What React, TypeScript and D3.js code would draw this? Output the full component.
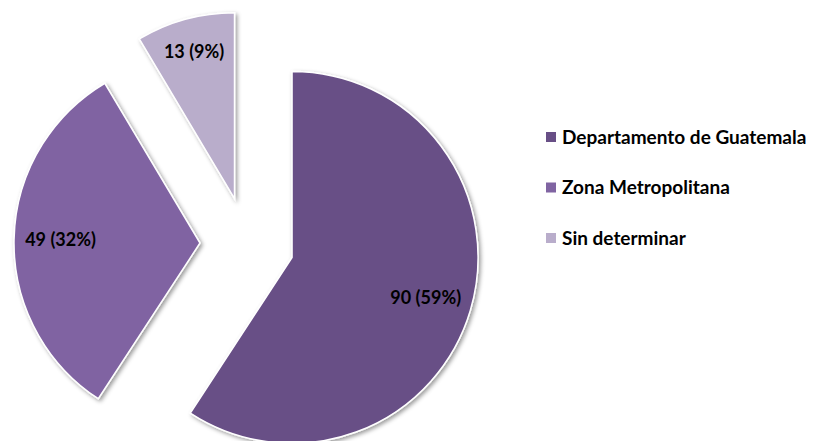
import { useEffect, useRef } from 'react'
import * as d3 from 'd3'

const categories = ['Departamento de Guatemala', 'Zona Metropolitana', 'Sin determinar']
const values = [90, 49, 13]
const colors = ['#684F86', '#8064A2', '#B9ADCB']

const App = () => {
  const svgRef = useRef<SVGSVGElement>(null)

  useEffect(() => {
    const width = 813
    const height = 441
    const cx = 247
    const cy = 244
    const radius = 186
    const explode = 47

    const svg = d3.select(svgRef.current)
    svg.selectAll('*').remove()
    svg.attr('width', width).attr('height', height)

    const defs = svg.append('defs')
    const filter = defs.append('filter')
      .attr('id', 'shadow')
      .attr('x', '-20%').attr('y', '-20%')
      .attr('width', '140%').attr('height', '140%')
    filter.append('feDropShadow')
      .attr('dx', 2).attr('dy', 2)
      .attr('stdDeviation', 2)
      .attr('flood-color', '#000')
      .attr('flood-opacity', 0.4)

    const total = d3.sum(values)
    const data = values.map((v, i) => ({ name: categories[i], value: v, color: colors[i] }))

    const pie = d3.pie<any>().sort(null).value(d => d.value)
    const arcs = pie(data)

    const arc = d3.arc<any>().innerRadius(0).outerRadius(radius)

    const slices = svg.append('g')
      .selectAll('g')
      .data(arcs)
      .enter()
      .append('g')
      .attr('transform', d => {
        const mid = (d.startAngle + d.endAngle) / 2
        return `translate(${cx + Math.sin(mid) * explode},${cy - Math.cos(mid) * explode})`
      })

    slices.append('path')
      .attr('d', arc)
      .attr('fill', d => d.data.color)
      .attr('stroke', '#fff')
      .attr('stroke-width', 1.5)
      .attr('filter', 'url(#shadow)')

    // narrow slices get their label pushed further out, like Excel's best fit
    slices.append('text')
      .attr('transform', d => {
        const mid = (d.startAngle + d.endAngle) / 2
        const r = (d.endAngle - d.startAngle) < 0.7 ? radius * 0.82 : radius * 0.75
        return `translate(${Math.sin(mid) * r},${-Math.cos(mid) * r})`
      })
      .attr('text-anchor', 'middle')
      .attr('dy', '0.35em')
      .style('font-family', 'Lato, "Open Sans", sans-serif')
      .style('font-weight', 'bold')
      .style('font-size', '18px')
      .attr('fill', '#000')
      .text(d => `${d.data.value} (${Math.round(d.data.value / total * 100)}%)`)

    const legend = svg.append('g')
      .selectAll('g')
      .data(data)
      .enter()
      .append('g')
      .attr('transform', (d, i) => `translate(546,${137 + i * 50.5})`)

    legend.append('rect')
      .attr('x', 0)
      .attr('y', -5)
      .attr('width', 10)
      .attr('height', 10)
      .attr('fill', d => d.color)

    legend.append('text')
      .attr('x', 16)
      .attr('dy', '0.35em')
      .style('font-family', 'Lato, "Open Sans", sans-serif')
      .style('font-weight', 'bold')
      .style('font-size', '19px')
      .attr('fill', '#000')
      .text(d => d.name)
  }, [])

  return <svg ref={svgRef} style={{ position: 'absolute', left: 0, top: 0 }}></svg>
}

export default App
